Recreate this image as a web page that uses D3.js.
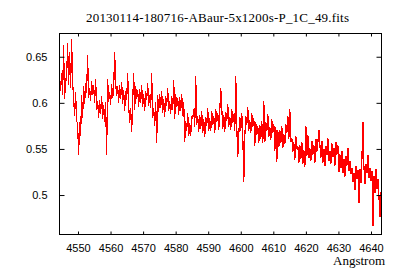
<!DOCTYPE html>
<html>
<head>
<meta charset="utf-8">
<script src="https://cdn.jsdelivr.net/npm/d3@7"></script>
<style>
  html, body { margin: 0; padding: 0; background: #fff; }
  svg { display: block; }
</style>
</head>
<body>
<svg id="chart" width="400" height="280"></svg>
<script>
// ---- data ----
const title = "20130114-180716-ABaur-5x1200s-P_1C_49.fits";
const xLabel = "Angstrom";
const xTicks = [4550, 4560, 4570, 4580, 4590, 4600, 4610, 4620, 4630, 4640];
const yTicks = [0.5, 0.55, 0.6, 0.65];
const xRange = [4544.32, 4643.23];
const yRange = [0.4572, 0.6752];
// spectrum sampling (FITS-style CRVAL1 / CDELT1)
const lambdaStart = 4544.35;
const lambdaStep = 0.3075;
// flux values (thousandths of the continuum)
const flux = [
  628,613,632,608,663,604,626,625,665,619,655,616,669,623,605,586,612,580,578,543,
  579,564,608,584,618,599,621,611,652,605,616,602,624,609,619,600,626,592,602,584,
  603,588,607,583,598,579,601,543,626,601,612,598,620,605,615,655,622,608,618,600,
  619,604,623,599,614,591,613,603,632,597,578,594,568,601,632,592,618,604,614,596,
  615,600,619,595,610,591,613,603,622,597,608,594,632,584,594,575,601,556,608,590,
  609,594,613,589,604,585,607,597,616,591,602,588,607,592,625,583,609,595,605,587,
  606,591,610,586,601,558,580,570,589,564,578,564,586,583,593,574,629,576,586,568,
  587,572,591,567,582,563,585,575,594,569,583,569,591,576,586,567,593,579,589,571,
  590,616,594,572,587,568,590,580,599,574,585,571,593,578,588,569,629,574,541,566,
  585,570,589,565,514,564,586,576,595,570,581,567,589,574,584,553,579,565,575,557,
  576,561,580,556,602,557,579,569,588,563,574,560,582,567,577,548,574,536,570,552,
  571,556,575,551,566,555,577,567,586,561,593,558,562,547,557,538,564,550,553,535,
  554,539,558,534,549,530,575,542,565,540,551,537,559,544,554,535,561,547,557,571,
  555,540,559,535,550,531,553,543,562,537,548,534,556,541,551,532,558,544,554,525,
  544,529,548,524,539,520,542,532,551,526,537,523,529,514,524,505,531,517,527,491,
  528,513,540,579,531,512,534,524,543,518,529,515,526,466,521,502,528,507,517,499,
  476,503
];

// ---- layout ----
const svg = d3.select("#chart");
const L = 59.5, R = 381.5, T = 33.5, B = 234.5;
const x = d3.scaleLinear().domain(xRange).range([L, R]);
const y = d3.scaleLinear().domain(yRange).range([B, T]);

const data = flux.map((v, i) => ({ w: lambdaStart + i * lambdaStep, f: v / 1000 }));

svg.append("rect").attr("width", 400).attr("height", 280).attr("fill", "#fff");

svg.append("defs").append("clipPath").attr("id", "clip")
  .append("rect").attr("x", L).attr("y", T).attr("width", R - L).attr("height", B - T);

svg.append("path")
  .datum(data)
  .attr("clip-path", "url(#clip)")
  .attr("fill", "none")
  .attr("stroke", "#ff0000")
  .attr("stroke-width", 1.2)
  .attr("shape-rendering", "crispEdges")
  .attr("d", d3.line().x(d => x(d.w)).y(d => y(d.f)));

const tickFont = "'Liberation Sans', Arial, sans-serif";
const serif = "'Liberation Serif', 'Times New Roman', serif";

function styleAxis(g, showText) {
  g.select(".domain").remove();
  g.selectAll(".tick line").attr("stroke", "#000").attr("stroke-width", 1);
  g.selectAll("text").attr("fill", "#000").style("font-family", tickFont).style("font-size", "11px");
  if (!showText) g.selectAll("text").remove();
}

svg.append("g").attr("transform", `translate(0,${B})`)
  .call(d3.axisBottom(x).tickValues(xTicks).tickSize(-3).tickPadding(10).tickFormat(d3.format("d")))
  .call(g => styleAxis(g, true));
svg.append("g").attr("transform", `translate(0,${T})`)
  .call(d3.axisTop(x).tickValues(xTicks).tickSize(-3))
  .call(g => styleAxis(g, false));
svg.append("g").attr("transform", `translate(${L},0)`)
  .call(d3.axisLeft(y).tickValues(yTicks).tickSize(-5).tickPadding(12).tickFormat(d => String(+d.toFixed(2))))
  .call(g => styleAxis(g, true));
svg.append("g").attr("transform", `translate(${R},0)`)
  .call(d3.axisRight(y).tickValues(yTicks).tickSize(-5))
  .call(g => styleAxis(g, false));

svg.append("rect")
  .attr("x", L).attr("y", T).attr("width", R - L).attr("height", B - T)
  .attr("fill", "none").attr("stroke", "#000").attr("stroke-width", 1);

svg.append("text")
  .attr("x", 217.5).attr("y", 22)
  .attr("text-anchor", "middle")
  .attr("textLength", 263).attr("lengthAdjust", "spacing")
  .style("font-family", serif).style("font-size", "13px")
  .attr("fill", "#000")
  .text(title);

svg.append("text")
  .attr("x", 385).attr("y", 265)
  .attr("text-anchor", "end")
  .style("font-family", serif).style("font-size", "13px")
  .attr("fill", "#000")
  .text(xLabel);
</script>
</body>
</html>
